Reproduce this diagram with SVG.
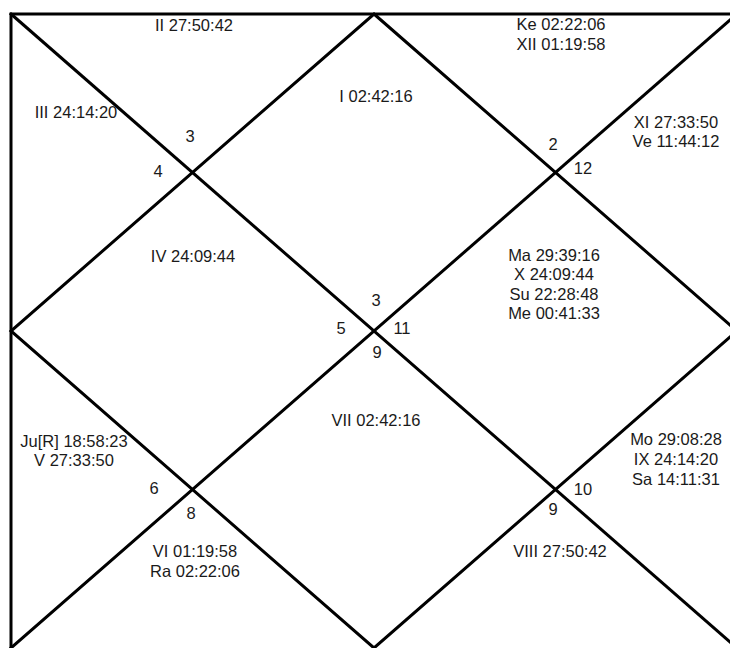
<svg xmlns="http://www.w3.org/2000/svg" width="730" height="648" viewBox="0 0 730 648">
<style>
.ln{stroke:#000;stroke-width:3;fill:none;stroke-linecap:square}
text{font-family:"Liberation Sans",Arial,sans-serif;font-size:16.5px;fill:#1a1a1a;text-anchor:middle}
</style>
<rect x="0" y="0" width="730" height="648" fill="#fff"/>
<g id="chart-lines">
<polyline class="ln" points="737,14 11,14 11,648"/>
<line class="ln" x1="11" y1="14" x2="737" y2="648"/>
<line class="ln" x1="737" y1="14" x2="11" y2="648"/>
<polygon class="ln" points="374,14 737,331 374,648 11,331"/>
</g>
<g id="house1"><text x="376" y="102">I 02:42:16</text><text x="376" y="306">3</text></g>
<g id="house2"><text x="194" y="31">II 27:50:42</text><text x="190" y="142">3</text></g>
<g id="house3"><text x="76" y="118">III 24:14:20</text><text x="158" y="177">4</text></g>
<g id="house4"><text x="193" y="262">IV 24:09:44</text><text x="341" y="334">5</text></g>
<g id="house5"><text x="74" y="447">Ju[R] 18:58:23</text><text x="74" y="466">V 27:33:50</text><text x="154" y="494">6</text></g>
<g id="house6"><text x="195" y="557">VI 01:19:58</text><text x="195" y="577">Ra 02:22:06</text><text x="191" y="519">8</text></g>
<g id="house7"><text x="376" y="426">VII 02:42:16</text><text x="377" y="358">9</text></g>
<g id="house8"><text x="560" y="557">VIII  27:50:42</text><text x="553" y="515">9</text></g>
<g id="house9"><text x="676" y="445">Mo 29:08:28</text><text x="676" y="465">IX 24:14:20</text><text x="676" y="485">Sa 14:11:31</text><text x="583" y="495">10</text></g>
<g id="house10"><text x="554" y="261">Ma 29:39:16</text><text x="554" y="280">X 24:09:44</text><text x="554" y="300">Su 22:28:48</text><text x="554" y="319">Me 00:41:33</text><text x="402" y="334">11</text></g>
<g id="house11"><text x="676" y="128">XI 27:33:50</text><text x="676" y="147">Ve 11:44:12</text><text x="583" y="174">12</text></g>
<g id="house12"><text x="561" y="30">Ke 02:22:06</text><text x="561" y="50">XII 01:19:58</text><text x="553" y="150">2</text></g>
</svg>
